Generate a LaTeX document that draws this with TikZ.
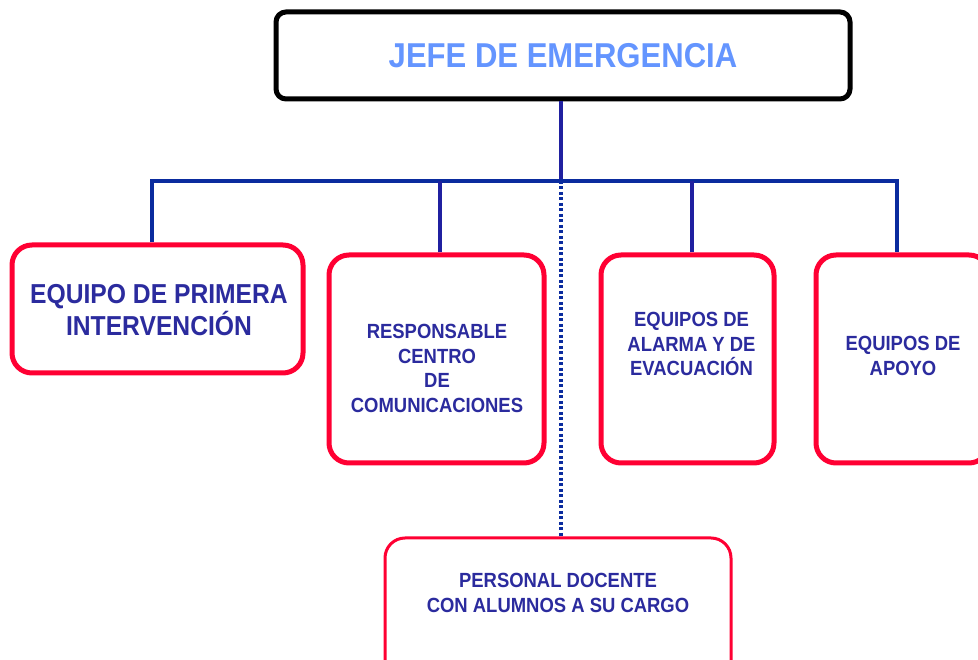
\documentclass[tikz,border=0pt]{standalone}
\usepackage{fontspec}
\setmainfont{Liberation Sans}[FakeStretch=0.9]
\definecolor{boxred}{HTML}{FF0033}
\definecolor{txtblue}{HTML}{2B2B9E}
\definecolor{titleblue}{HTML}{6495FF}
\definecolor{linkblue}{HTML}{2020A0}
\definecolor{busblue}{HTML}{0A2B9E}
\tikzset{
  redbox/.style={draw=boxred, line width=5pt, rounded corners=20pt, fill=white, inner sep=0pt},
  lbl/.style={text=txtblue, font=\bfseries\fontsize{20.5}{24.5}\selectfont, align=center, inner sep=0pt},
  link/.style={draw=linkblue, line width=4pt},
  buslink/.style={draw=busblue, line width=4pt},
  dotlink/.style={draw=busblue, line width=3.5pt, dash pattern=on 3pt off 2.5pt}
}
\begin{document}
\begin{tikzpicture}[x=1pt,y=1pt]
\useasboundingbox (0,0) rectangle (978,660);
\fill[white] (0,0) rectangle (978,660);
% boxes
\node[draw=black, line width=5pt, rounded corners=10pt, minimum width=574pt, minimum height=87pt, inner sep=0pt] (jefe) at (563,604.5) {};
\node[text=titleblue, font=\bfseries\fontsize{34.5}{40}\selectfont, inner sep=0pt] (jefet) at (563,604.5) {JEFE DE EMERGENCIA};
\node[redbox, minimum width=291pt, minimum height=128pt] (b1) at (157.5,351) {};
\node[redbox, minimum width=215pt, minimum height=208pt] (b2) at (436.5,301) {};
\node[redbox, minimum width=173pt, minimum height=208pt] (b3) at (687.5,301) {};
\node[redbox, minimum width=173pt, minimum height=208pt] (b4) at (902.5,301) {};
\node[redbox, line width=3pt, minimum width=346pt, minimum height=150pt] (b5) at (558,47) {};
% labels
\node[lbl, font=\bfseries\fontsize{27.4}{32}\selectfont] (t1) at (159,350) {EQUIPO DE PRIMERA\\INTERVENCIÓN};
\node[lbl] (t2) at (437,291.5) {RESPONSABLE\\CENTRO\\DE\\COMUNICACIONES};
\node[lbl] (t3) at (691.5,316) {EQUIPOS DE\\ALARMA Y DE\\EVACUACIÓN};
\node[lbl] (t4) at (903,304) {EQUIPOS DE\\APOYO};
\node[lbl] (t5) at (558,67) {PERSONAL DOCENTE\\CON ALUMNOS A SU CARGO};
% connectors
\coordinate (hub) at (561,479);
\draw[link] (jefe.south -| hub) -- (hub);
\draw[buslink] ([xshift=-5.5pt]b1.north) |- (hub) -| ([xshift=-5.5pt]b4.north);
\draw[link] ([xshift=3.5pt]b2.north) -- ([xshift=3.5pt]b2.north |- hub);
\draw[link] ([xshift=4.5pt]b3.north) -- ([xshift=4.5pt]b3.north |- hub);
\draw[dotlink] (hub) -- (b5.north -| hub);
\end{tikzpicture}
\end{document}
